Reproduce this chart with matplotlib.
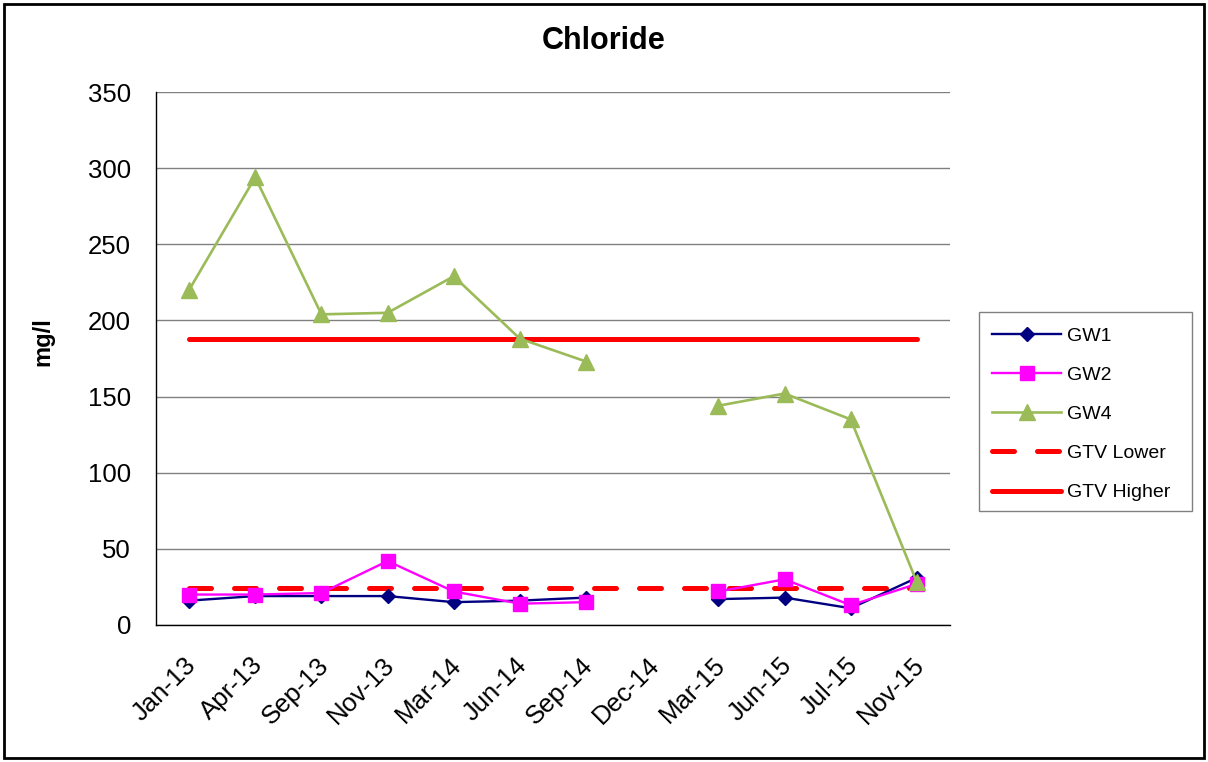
import numpy as np
import matplotlib
matplotlib.use("Agg")
import matplotlib.pyplot as plt
from matplotlib.patches import Rectangle
from matplotlib.transforms import ScaledTranslation

plt.rcParams['font.family'] = ['Liberation Sans', 'DejaVu Sans']

# Sampling dates (category axis)
dates = ["Jan-13", "Apr-13", "Sep-13", "Nov-13", "Mar-14", "Jun-14",
         "Sep-14", "Dec-14", "Mar-15", "Jun-15", "Jul-15", "Nov-15"]

# Chloride concentrations, mg/l (None = not sampled)
gw1 = [16, 19, 19, 19, 15, 16, 18, None, 17, 18, 11, 31]
gw2 = [20, 20, 21, 42, 22, 14, 15, None, 22, 30, 13, 27]
gw4 = [220, 294, 204, 205, 229, 188, 173, None, 144, 152, 135, 28]

# Groundwater threshold values
gtv_lower = 24
gtv_higher = 187.5

y_ticks = [0, 50, 100, 150, 200, 250, 300, 350]


def as_array(values):
    return np.array([np.nan if v is None else v for v in values], dtype=float)


W, H, DPI = 1208, 762, 100
fig = plt.figure(figsize=(W / DPI, H / DPI), dpi=DPI)
ax = fig.add_axes([156 / W, 1 - 625 / H, (950 - 156) / W, (625 - 92) / H])

x = np.arange(len(dates))

ax.plot(x, as_array(gw1), color="#000080", lw=1.7, marker="D", ms=7,
        label="GW1", zorder=4)
ax.plot(x, as_array(gw2), color="#FF00FF", lw=1.7, marker="s", ms=10.5,
        label="GW2", zorder=4)
ax.plot(x, as_array(gw4), color="#9BBB59", lw=1.9, marker="^", ms=11,
        label="GW4", zorder=4)
ax.plot(x, np.full(len(dates), gtv_lower), color="#FF0000", lw=3.6,
        ls=(0, (4.4, 4.6)), dash_capstyle="round", label="GTV Lower", zorder=3)
ax.plot(x, np.full(len(dates), gtv_higher), color="#FF0000", lw=3.6,
        solid_capstyle="round", label="GTV Higher", zorder=3)

ax.set_xlim(-0.5, len(dates) - 0.5)
ax.set_ylim(0, 350)
ax.set_yticks(y_ticks)
ax.set_xticks(x)
ax.set_xticklabels(dates, rotation=45, ha="right", rotation_mode="anchor")
ax.tick_params(axis="both", length=0, labelsize=18.5)
ax.tick_params(axis="y", pad=18)
ax.tick_params(axis="x", pad=20)
shift = ScaledTranslation(-5 / DPI, 0, fig.dpi_scale_trans)
for lbl in ax.get_xticklabels():
    lbl.set_transform(lbl.get_transform() + shift)

ax.yaxis.grid(True, color="#808080", lw=1.0)
ax.set_axisbelow(True)
for side in ("top", "right"):
    ax.spines[side].set_visible(False)
for side in ("left", "bottom"):
    ax.spines[side].set_color("black")
    ax.spines[side].set_linewidth(1.0)

fig.text(0.5, 1 - 41 / H, "Chloride", fontsize=22, fontweight="bold",
         ha="center", va="center")
fig.text(43 / W, 1 - 342 / H, "mg/l", rotation=90, fontsize=17,
         fontweight="bold", ha="center", va="center")

# Legend box and entries
fig.add_artist(Rectangle((979 / W, 1 - 511 / H), (1192 - 979) / W,
                         (511 - 312) / H, transform=fig.transFigure,
                         fill=False, edgecolor="#808080", lw=1.0))
leg = fig.legend(loc="upper left", bbox_to_anchor=(992 / W, 1 - 327 / H),
                 bbox_transform=fig.transFigure, fontsize=14, frameon=False,
                 handlelength=3.55, labelspacing=1.11, borderpad=0,
                 handletextpad=0.31, borderaxespad=0)

# Outer chart border
fig.add_artist(Rectangle((4 / W, 4 / H), 1200 / W, 754 / H,
                         transform=fig.transFigure, fill=False,
                         edgecolor="black", lw=2))

fig.savefig("out.png", dpi=DPI)
